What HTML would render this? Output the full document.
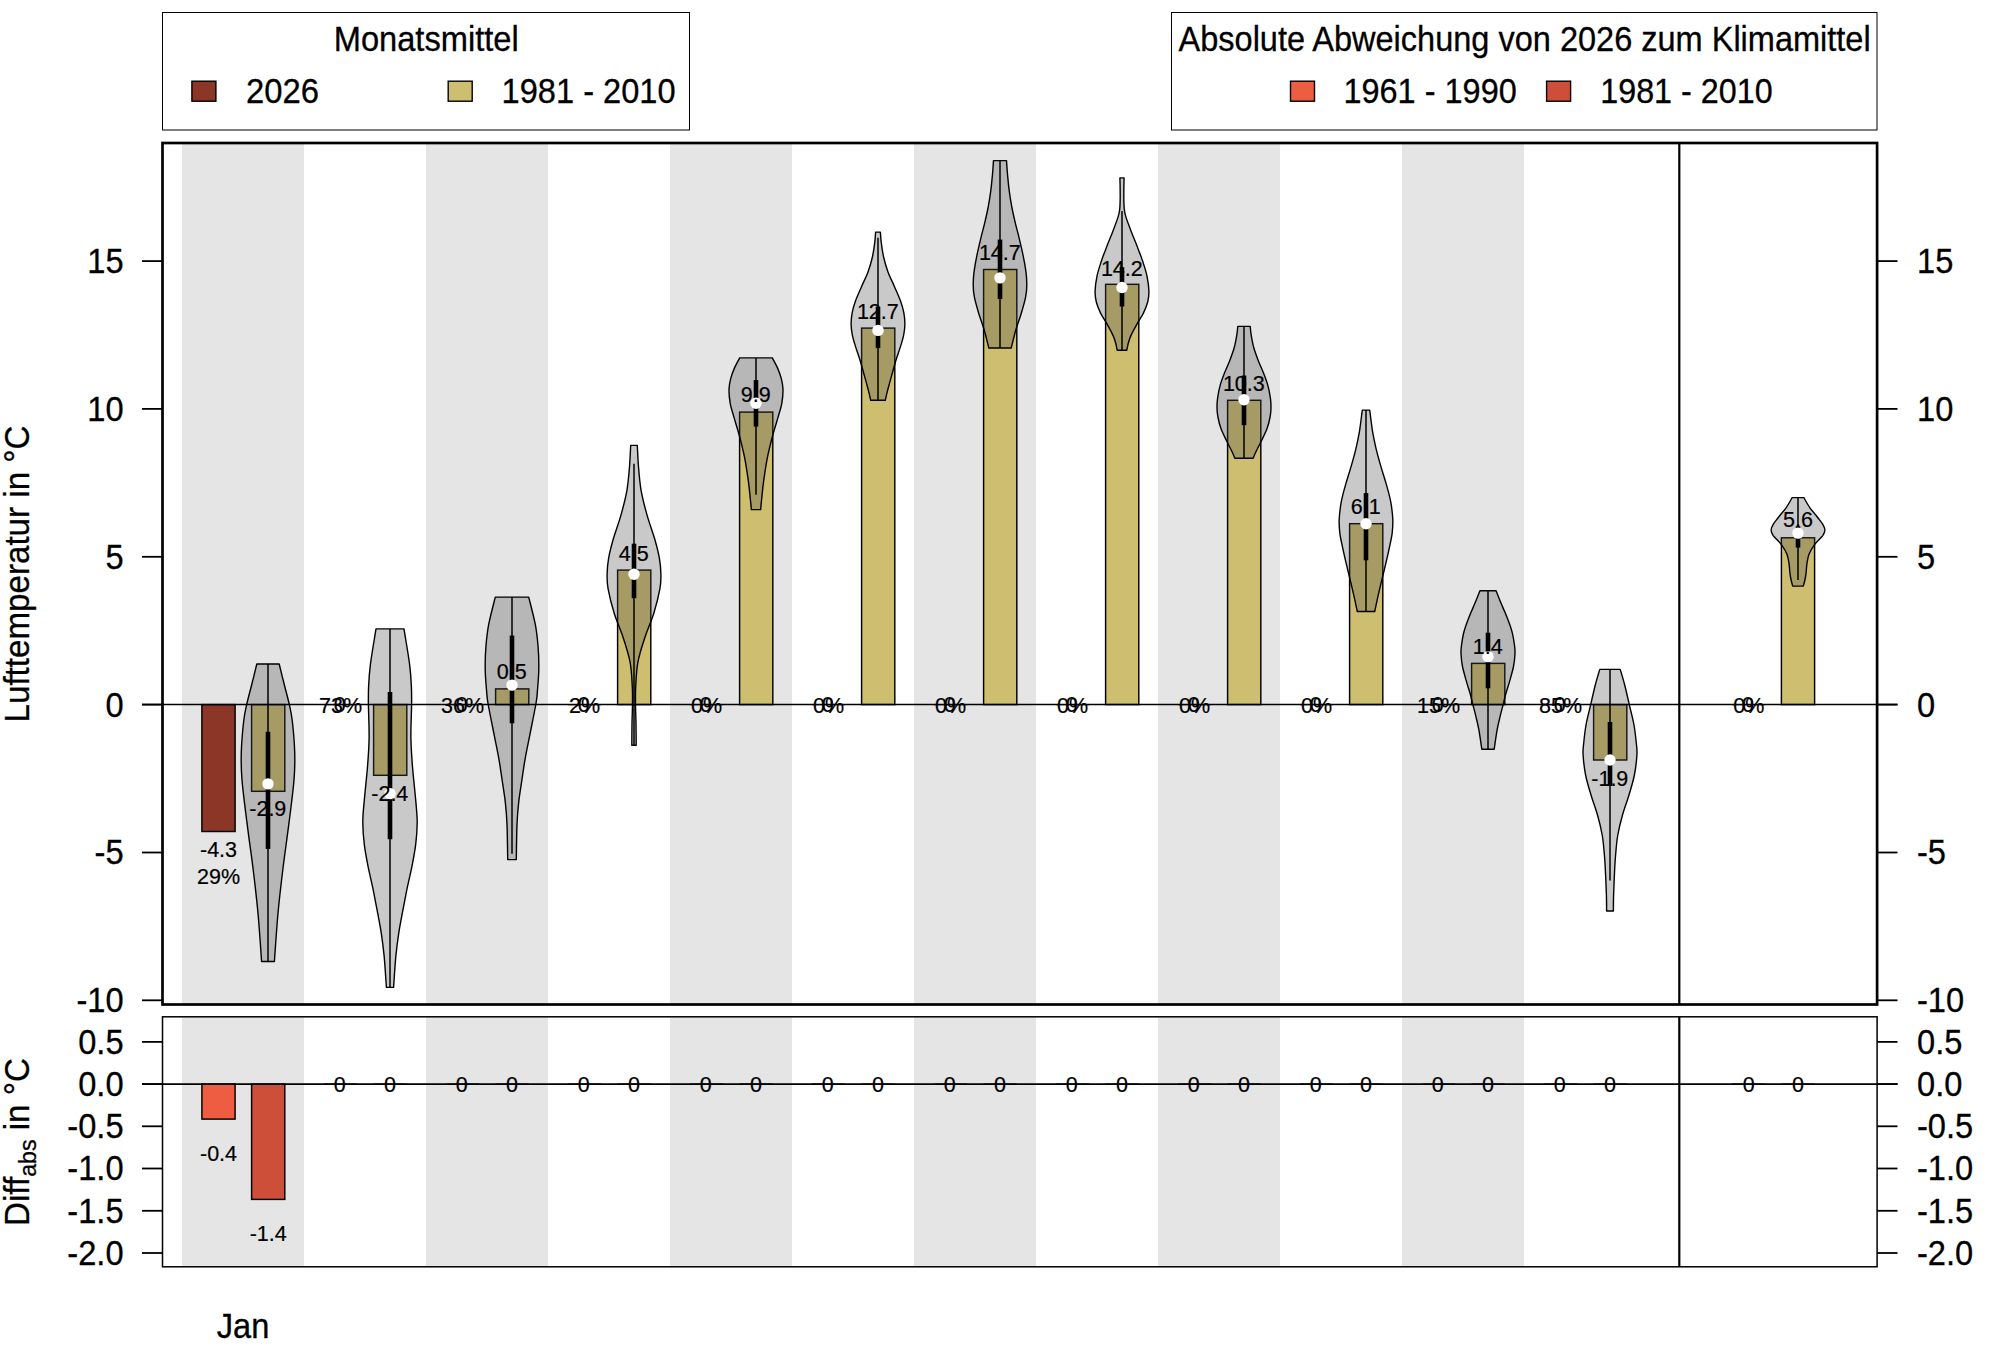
<!DOCTYPE html>
<html lang="de">
<head>
<meta charset="utf-8">
<title>Monatsmittel Lufttemperatur 2026</title>
<style>
html,body{margin:0;padding:0;background:#fff;}
body{width:2000px;height:1350px;overflow:hidden;}
svg{display:block;}
</style>
</head>
<body>
<svg width="2000" height="1350" viewBox="0 0 2000 1350" font-family='"Liberation Sans", sans-serif' fill="#000">
<rect width="2000" height="1350" fill="#fff"/>
<g fill="#e5e5e5">
<rect x="182.0" y="143.0" width="122" height="861.5"/>
<rect x="182.0" y="1016.8" width="122" height="250.0"/>
<rect x="426.0" y="143.0" width="122" height="861.5"/>
<rect x="426.0" y="1016.8" width="122" height="250.0"/>
<rect x="670.0" y="143.0" width="122" height="861.5"/>
<rect x="670.0" y="1016.8" width="122" height="250.0"/>
<rect x="914.0" y="143.0" width="122" height="861.5"/>
<rect x="914.0" y="1016.8" width="122" height="250.0"/>
<rect x="1158.0" y="143.0" width="122" height="861.5"/>
<rect x="1158.0" y="1016.8" width="122" height="250.0"/>
<rect x="1402.0" y="143.0" width="122" height="861.5"/>
<rect x="1402.0" y="1016.8" width="122" height="250.0"/>
</g>
<g stroke="#000" stroke-width="1.45">
<rect x="201.9" y="704.6" width="33.2" height="126.9" fill="#8b3626"/>
<rect x="251.6" y="704.6" width="33.2" height="86.7" fill="#cdbe70"/>
<rect x="373.6" y="704.6" width="33.2" height="70.7" fill="#cdbe70"/>
<rect x="495.6" y="688.9" width="33.2" height="15.7" fill="#cdbe70"/>
<rect x="617.6" y="570.1" width="33.2" height="134.5" fill="#cdbe70"/>
<rect x="739.6" y="412.1" width="33.2" height="292.5" fill="#cdbe70"/>
<rect x="861.6" y="328.1" width="33.2" height="376.5" fill="#cdbe70"/>
<rect x="983.6" y="269.5" width="33.2" height="435.1" fill="#cdbe70"/>
<rect x="1105.6" y="284.3" width="33.2" height="420.3" fill="#cdbe70"/>
<rect x="1227.6" y="400.3" width="33.2" height="304.3" fill="#cdbe70"/>
<rect x="1349.6" y="523.7" width="33.2" height="180.9" fill="#cdbe70"/>
<rect x="1471.6" y="663.4" width="33.2" height="41.2" fill="#cdbe70"/>
<rect x="1593.6" y="704.6" width="33.2" height="55.4" fill="#cdbe70"/>
<rect x="1781.4" y="537.8" width="33.2" height="166.8" fill="#cdbe70"/>
<rect x="201.9" y="1084.1" width="33.2" height="35.0" fill="#ee5c42"/>
<rect x="251.6" y="1084.1" width="33.2" height="115.3" fill="#cd4f39"/>
</g>
<g stroke="#000" stroke-width="1.3">
<path d="M323.9 704.6h33.2"/>
<path d="M323.9 1084.1h33.2"/>
<path d="M373.6 1084.1h33.2"/>
<path d="M445.9 704.6h33.2"/>
<path d="M445.9 1084.1h33.2"/>
<path d="M495.6 1084.1h33.2"/>
<path d="M567.9 704.6h33.2"/>
<path d="M567.9 1084.1h33.2"/>
<path d="M617.6 1084.1h33.2"/>
<path d="M689.9 704.6h33.2"/>
<path d="M689.9 1084.1h33.2"/>
<path d="M739.6 1084.1h33.2"/>
<path d="M811.9 704.6h33.2"/>
<path d="M811.9 1084.1h33.2"/>
<path d="M861.6 1084.1h33.2"/>
<path d="M933.9 704.6h33.2"/>
<path d="M933.9 1084.1h33.2"/>
<path d="M983.6 1084.1h33.2"/>
<path d="M1055.9 704.6h33.2"/>
<path d="M1055.9 1084.1h33.2"/>
<path d="M1105.6 1084.1h33.2"/>
<path d="M1177.9 704.6h33.2"/>
<path d="M1177.9 1084.1h33.2"/>
<path d="M1227.6 1084.1h33.2"/>
<path d="M1299.9 704.6h33.2"/>
<path d="M1299.9 1084.1h33.2"/>
<path d="M1349.6 1084.1h33.2"/>
<path d="M1421.9 704.6h33.2"/>
<path d="M1421.9 1084.1h33.2"/>
<path d="M1471.6 1084.1h33.2"/>
<path d="M1543.9 704.6h33.2"/>
<path d="M1543.9 1084.1h33.2"/>
<path d="M1593.6 1084.1h33.2"/>
<path d="M1732.1 704.6h33.2"/>
<path d="M1732.1 1084.1h33.2"/>
<path d="M1781.4 1084.1h33.2"/>
</g>
<path d="M279.2 664.0C280.1 667.6 282.8 678.8 284.5 685.5C286.2 692.2 287.9 698.1 289.2 704.0C290.5 709.9 291.4 713.0 292.3 721.0C293.2 729.0 294.4 742.2 294.7 752.0C295.0 761.8 295.0 767.9 294.0 780.0C293.0 792.1 290.7 809.6 288.8 824.4C286.9 839.2 284.7 854.2 282.9 869.0C281.1 883.8 279.4 897.9 278.0 913.3C276.6 928.7 275.0 953.5 274.4 961.5L261.6 961.5C261.0 953.5 259.4 928.7 258.0 913.3C256.6 897.9 254.9 883.8 253.1 869.0C251.3 854.2 249.0 839.2 247.2 824.4C245.3 809.6 243.0 792.1 242.0 780.0C241.0 767.9 241.0 761.8 241.3 752.0C241.6 742.2 242.8 729.0 243.7 721.0C244.6 713.0 245.5 709.9 246.8 704.0C248.1 698.1 249.8 692.2 251.5 685.5C253.2 678.8 255.9 667.6 256.8 664.0Z" fill="rgba(77,77,77,0.3)" stroke="#000" stroke-width="1.4" stroke-linejoin="round"/>
<path d="M268.0 664.0V961.5" stroke="#000" stroke-width="1.5"/>
<path d="M268.0 731.8V848.9" stroke="#000" stroke-width="4.6"/>
<circle cx="268.0" cy="783.9" r="5.7" fill="#fff"/>
<path d="M404.0 628.9C404.9 634.8 408.4 654.8 409.6 664.4C410.8 674.0 411.1 680.1 411.4 686.7C411.7 693.3 411.7 695.4 411.6 704.0C411.5 712.6 410.7 727.8 410.9 738.5C411.1 749.2 411.8 758.1 412.6 768.0C413.4 777.9 414.7 789.0 415.5 798.0C416.3 807.0 417.2 814.3 417.2 822.0C417.2 829.7 416.6 836.9 415.7 844.4C414.8 851.9 413.3 859.3 411.9 866.7C410.4 874.1 408.5 881.5 407.0 888.9C405.5 896.3 404.1 903.7 402.7 911.1C401.3 918.5 399.8 925.9 398.7 933.3C397.6 940.7 396.8 946.6 395.9 955.6C395.0 964.6 394.0 982.1 393.6 987.4L386.4 987.4C386.0 982.1 385.0 964.6 384.1 955.6C383.2 946.6 382.4 940.7 381.3 933.3C380.2 925.9 378.7 918.5 377.3 911.1C375.9 903.7 374.5 896.3 373.0 888.9C371.5 881.5 369.6 874.1 368.1 866.7C366.7 859.3 365.2 851.9 364.3 844.4C363.4 836.9 362.8 829.7 362.8 822.0C362.8 814.3 363.7 807.0 364.5 798.0C365.3 789.0 366.6 777.9 367.4 768.0C368.2 758.1 368.9 749.2 369.1 738.5C369.3 727.8 368.5 712.6 368.4 704.0C368.3 695.4 368.3 693.3 368.6 686.7C368.9 680.1 369.2 674.0 370.4 664.4C371.6 654.8 375.1 634.8 376.0 628.9Z" fill="rgba(77,77,77,0.3)" stroke="#000" stroke-width="1.4" stroke-linejoin="round"/>
<path d="M390.0 628.9V987.4" stroke="#000" stroke-width="1.5"/>
<path d="M390.0 692.1V839.3" stroke="#000" stroke-width="4.6"/>
<circle cx="390.0" cy="793.6" r="5.7" fill="#fff"/>
<path d="M528.7 597.1C529.8 601.6 533.7 616.1 535.3 624.4C536.9 632.7 537.5 639.3 538.1 646.7C538.7 654.1 538.9 661.5 538.8 668.9C538.7 676.3 537.9 685.2 537.4 691.1C536.9 697.0 537.2 696.6 535.9 704.0C534.6 711.4 531.5 726.6 529.7 735.6C527.9 744.6 526.6 750.4 525.3 757.8C524.0 765.2 523.0 772.6 521.9 780.0C520.8 787.4 519.5 794.8 518.7 802.2C517.9 809.6 517.4 814.8 517.0 824.4C516.6 834.0 516.4 853.7 516.3 859.6L507.7 859.6C507.6 853.7 507.4 834.0 507.0 824.4C506.6 814.8 506.1 809.6 505.3 802.2C504.5 794.8 503.2 787.4 502.1 780.0C501.0 772.6 500.0 765.2 498.7 757.8C497.4 750.4 496.1 744.6 494.3 735.6C492.5 726.6 489.4 711.4 488.1 704.0C486.8 696.6 487.1 697.0 486.6 691.1C486.1 685.2 485.3 676.3 485.2 668.9C485.1 661.5 485.3 654.1 485.9 646.7C486.5 639.3 487.1 632.7 488.7 624.4C490.3 616.1 494.2 601.6 495.3 597.1Z" fill="rgba(77,77,77,0.3)" stroke="#000" stroke-width="1.4" stroke-linejoin="round"/>
<path d="M512.0 597.1V853.8" stroke="#000" stroke-width="1.5"/>
<path d="M512.0 635.6V723.3" stroke="#000" stroke-width="4.6"/>
<circle cx="512.0" cy="685.1" r="5.7" fill="#fff"/>
<path d="M637.3 445.4C637.5 448.9 637.9 459.1 638.5 466.7C639.1 474.3 639.8 483.0 641.2 491.1C642.7 499.2 644.9 507.5 647.2 515.6C649.5 523.8 653.0 532.9 655.0 540.0C657.0 547.1 658.4 552.6 659.4 558.3C660.4 564.0 660.8 569.1 660.9 574.2C661.0 579.3 661.1 582.4 659.9 588.9C658.7 595.4 656.3 605.1 653.8 613.3C651.3 621.4 647.4 629.6 644.8 637.8C642.1 645.9 639.4 654.1 637.9 662.2C636.4 670.4 636.1 679.7 635.7 686.7C635.3 693.7 635.5 697.9 635.5 704.0C635.5 710.1 635.9 716.4 636.0 723.3C636.1 730.2 636.2 741.6 636.2 745.3L631.8 745.3C631.8 741.6 631.9 730.2 632.0 723.3C632.1 716.4 632.5 710.1 632.5 704.0C632.5 697.9 632.7 693.7 632.3 686.7C631.9 679.7 631.6 670.4 630.1 662.2C628.6 654.1 625.9 645.9 623.2 637.8C620.6 629.6 616.7 621.4 614.2 613.3C611.7 605.1 609.3 595.4 608.1 588.9C606.9 582.4 607.0 579.3 607.1 574.2C607.2 569.1 607.6 564.0 608.6 558.3C609.6 552.6 611.0 547.1 613.0 540.0C615.0 532.9 618.5 523.8 620.8 515.6C623.1 507.5 625.3 499.2 626.8 491.1C628.2 483.0 628.9 474.3 629.5 466.7C630.1 459.1 630.5 448.9 630.7 445.4Z" fill="rgba(77,77,77,0.3)" stroke="#000" stroke-width="1.4" stroke-linejoin="round"/>
<path d="M634.0 463.7V745.3" stroke="#000" stroke-width="1.5"/>
<path d="M634.0 543.7V598.2" stroke="#000" stroke-width="4.6"/>
<circle cx="634.0" cy="574.2" r="5.7" fill="#fff"/>
<path d="M772.3 357.9C773.2 359.6 776.1 364.6 777.6 368.1C779.1 371.6 780.4 375.2 781.3 378.7C782.2 382.2 782.9 385.2 783.0 389.3C783.1 393.4 782.6 398.6 781.8 403.3C781.0 408.0 779.3 412.7 778.0 417.4C776.7 422.1 775.1 426.8 773.8 431.5C772.5 436.2 771.2 440.9 770.1 445.6C769.0 450.3 767.9 454.9 767.0 459.6C766.1 464.3 765.4 469.0 764.7 473.7C764.0 478.4 763.5 481.8 762.8 487.8C762.1 493.8 761.0 506.0 760.6 509.6L751.4 509.6C751.0 506.0 749.9 493.8 749.2 487.8C748.5 481.8 748.0 478.4 747.3 473.7C746.6 469.0 745.9 464.3 745.0 459.6C744.1 454.9 743.0 450.3 741.9 445.6C740.8 440.9 739.5 436.2 738.2 431.5C736.9 426.8 735.3 422.1 734.0 417.4C732.7 412.7 731.0 408.0 730.2 403.3C729.4 398.6 728.9 393.4 729.0 389.3C729.1 385.2 729.8 382.2 730.7 378.7C731.6 375.2 732.9 371.6 734.4 368.1C735.9 364.6 738.8 359.6 739.7 357.9Z" fill="rgba(77,77,77,0.3)" stroke="#000" stroke-width="1.4" stroke-linejoin="round"/>
<path d="M756.0 357.9V494.8" stroke="#000" stroke-width="1.5"/>
<path d="M756.0 380.1V426.6" stroke="#000" stroke-width="4.6"/>
<circle cx="756.0" cy="403.3" r="5.7" fill="#fff"/>
<path d="M880.4 232.1C880.5 233.8 880.7 238.0 881.2 242.2C881.7 246.3 882.5 252.1 883.6 257.0C884.7 261.9 886.2 266.9 888.0 271.9C889.8 276.8 892.4 281.8 894.5 286.7C896.6 291.6 899.2 297.2 900.7 301.5C902.2 305.8 903.1 308.9 903.8 312.6C904.5 316.3 904.9 320.0 904.9 323.7C904.9 327.4 904.4 331.1 903.7 334.8C903.0 338.5 902.0 341.6 900.7 345.9C899.4 350.2 897.3 355.8 895.8 360.7C894.3 365.6 893.0 370.7 891.6 375.6C890.2 380.6 888.7 386.3 887.6 390.4C886.5 394.5 885.7 398.6 885.3 400.3L870.7 400.3C870.3 398.6 869.5 394.5 868.4 390.4C867.3 386.3 865.8 380.6 864.4 375.6C863.0 370.7 861.7 365.6 860.2 360.7C858.7 355.8 856.6 350.2 855.3 345.9C854.0 341.6 853.0 338.5 852.3 334.8C851.6 331.1 851.1 327.4 851.1 323.7C851.1 320.0 851.5 316.3 852.2 312.6C852.9 308.9 853.8 305.8 855.3 301.5C856.8 297.2 859.4 291.6 861.5 286.7C863.6 281.8 866.2 276.8 868.0 271.9C869.8 266.9 871.3 261.9 872.4 257.0C873.5 252.1 874.3 246.3 874.8 242.2C875.3 238.0 875.5 233.8 875.6 232.1Z" fill="rgba(77,77,77,0.3)" stroke="#000" stroke-width="1.4" stroke-linejoin="round"/>
<path d="M878.0 237.8V400.3" stroke="#000" stroke-width="1.5"/>
<path d="M878.0 306.7V348.1" stroke="#000" stroke-width="4.6"/>
<circle cx="878.0" cy="330.4" r="5.7" fill="#fff"/>
<path d="M1006.5 160.6C1006.7 162.9 1007.0 169.4 1007.5 174.4C1008.0 179.4 1008.5 185.3 1009.2 190.7C1009.9 196.1 1010.8 201.6 1011.8 207.0C1012.8 212.4 1014.1 217.9 1015.4 223.3C1016.7 228.7 1018.2 234.2 1019.5 239.6C1020.8 245.0 1022.1 250.5 1023.2 255.9C1024.3 261.3 1025.4 267.4 1026.0 272.2C1026.6 277.0 1026.8 280.4 1026.8 284.5C1026.8 288.6 1026.6 291.9 1025.7 296.7C1024.8 301.4 1023.0 307.6 1021.4 313.0C1019.8 318.4 1017.7 323.5 1016.0 329.3C1014.3 335.1 1012.0 344.9 1011.2 348.0L988.8 348.0C988.0 344.9 985.7 335.1 984.0 329.3C982.3 323.5 980.2 318.4 978.6 313.0C977.0 307.6 975.2 301.4 974.3 296.7C973.4 291.9 973.2 288.6 973.2 284.5C973.2 280.4 973.4 277.0 974.0 272.2C974.6 267.4 975.7 261.3 976.8 255.9C977.9 250.5 979.2 245.0 980.5 239.6C981.8 234.2 983.3 228.7 984.6 223.3C985.9 217.9 987.2 212.4 988.2 207.0C989.2 201.6 990.1 196.1 990.8 190.7C991.5 185.3 992.0 179.4 992.5 174.4C993.0 169.4 993.3 162.9 993.5 160.6Z" fill="rgba(77,77,77,0.3)" stroke="#000" stroke-width="1.4" stroke-linejoin="round"/>
<path d="M1000.0 160.6V348.0" stroke="#000" stroke-width="1.5"/>
<path d="M1000.0 239.6V299.1" stroke="#000" stroke-width="4.6"/>
<circle cx="1000.0" cy="277.9" r="5.7" fill="#fff"/>
<path d="M1124.1 177.9C1124.0 180.7 1123.8 189.3 1123.8 194.6C1123.8 199.8 1123.9 205.7 1124.3 209.4C1124.7 213.1 1124.7 213.2 1125.9 216.9C1127.1 220.6 1129.4 226.8 1131.3 231.7C1133.2 236.6 1135.3 241.6 1137.2 246.5C1139.1 251.4 1141.1 256.4 1142.7 261.3C1144.3 266.2 1146.0 271.2 1147.0 276.1C1148.0 281.0 1148.8 286.6 1148.9 290.9C1149.0 295.2 1148.6 298.3 1147.7 302.0C1146.8 305.7 1145.2 309.4 1143.4 313.1C1141.6 316.8 1138.9 320.6 1136.8 324.3C1134.7 328.0 1132.4 332.3 1131.0 335.4C1129.6 338.5 1129.1 340.3 1128.4 342.8C1127.7 345.3 1127.1 349.0 1126.8 350.2L1117.2 350.2C1116.9 349.0 1116.3 345.3 1115.6 342.8C1114.9 340.3 1114.4 338.5 1113.0 335.4C1111.6 332.3 1109.3 328.0 1107.2 324.3C1105.1 320.6 1102.4 316.8 1100.6 313.1C1098.8 309.4 1097.2 305.7 1096.3 302.0C1095.4 298.3 1095.0 295.2 1095.1 290.9C1095.2 286.6 1096.0 281.0 1097.0 276.1C1098.0 271.2 1099.7 266.2 1101.3 261.3C1102.9 256.4 1104.9 251.4 1106.8 246.5C1108.7 241.6 1110.8 236.6 1112.7 231.7C1114.6 226.8 1116.9 220.6 1118.1 216.9C1119.3 213.2 1119.3 213.1 1119.7 209.4C1120.1 205.7 1120.2 199.8 1120.2 194.6C1120.2 189.3 1120.0 180.7 1119.9 177.9Z" fill="rgba(77,77,77,0.3)" stroke="#000" stroke-width="1.4" stroke-linejoin="round"/>
<path d="M1122.0 210.9V350.2" stroke="#000" stroke-width="1.5"/>
<path d="M1122.0 267.2V306.5" stroke="#000" stroke-width="4.6"/>
<circle cx="1122.0" cy="287.5" r="5.7" fill="#fff"/>
<path d="M1250.2 326.4C1250.4 327.9 1250.6 331.6 1251.2 335.2C1251.8 338.8 1252.6 343.6 1253.8 347.8C1255.0 352.0 1256.6 356.2 1258.2 360.4C1259.8 364.6 1261.9 368.8 1263.5 373.0C1265.1 377.2 1266.8 381.4 1267.9 385.6C1269.1 389.8 1269.9 394.5 1270.4 398.2C1270.9 401.9 1271.0 404.5 1271.0 407.6C1271.0 410.7 1270.8 413.3 1270.1 417.0C1269.4 420.7 1268.3 425.4 1266.7 429.6C1265.1 433.8 1262.4 438.6 1260.7 442.2C1259.0 445.8 1257.6 448.3 1256.3 451.0C1255.0 453.7 1253.6 457.1 1253.1 458.3L1234.9 458.3C1234.4 457.1 1233.0 453.7 1231.7 451.0C1230.4 448.3 1229.0 445.8 1227.3 442.2C1225.6 438.6 1222.9 433.8 1221.3 429.6C1219.7 425.4 1218.6 420.7 1217.9 417.0C1217.2 413.3 1217.0 410.7 1217.0 407.6C1217.0 404.5 1217.1 401.9 1217.6 398.2C1218.1 394.5 1218.9 389.8 1220.1 385.6C1221.2 381.4 1222.9 377.2 1224.5 373.0C1226.1 368.8 1228.2 364.6 1229.8 360.4C1231.4 356.2 1233.0 352.0 1234.2 347.8C1235.4 343.6 1236.2 338.8 1236.8 335.2C1237.4 331.6 1237.6 327.9 1237.8 326.4Z" fill="rgba(77,77,77,0.3)" stroke="#000" stroke-width="1.4" stroke-linejoin="round"/>
<path d="M1244.0 326.4V458.3" stroke="#000" stroke-width="1.5"/>
<path d="M1244.0 375.5V425.2" stroke="#000" stroke-width="4.6"/>
<circle cx="1244.0" cy="399.7" r="5.7" fill="#fff"/>
<path d="M1369.7 410.1C1370.2 413.5 1371.4 424.2 1372.4 430.6C1373.5 437.0 1374.6 442.4 1376.0 448.3C1377.4 454.2 1379.1 460.2 1380.8 466.1C1382.5 472.0 1384.5 478.0 1386.2 483.9C1387.9 489.8 1389.6 495.8 1390.7 501.7C1391.8 507.6 1392.5 514.2 1392.8 519.4C1393.0 524.6 1392.7 528.3 1392.2 532.8C1391.7 537.2 1390.8 540.9 1389.7 546.1C1388.6 551.3 1387.1 558.0 1385.7 563.9C1384.3 569.8 1382.8 575.8 1381.4 581.7C1380.0 587.6 1378.4 594.4 1377.3 599.4C1376.2 604.4 1375.1 609.5 1374.7 611.5L1357.3 611.5C1356.9 609.5 1355.8 604.4 1354.7 599.4C1353.6 594.4 1352.0 587.6 1350.6 581.7C1349.2 575.8 1347.7 569.8 1346.3 563.9C1344.9 558.0 1343.4 551.3 1342.3 546.1C1341.2 540.9 1340.3 537.2 1339.8 532.8C1339.3 528.3 1339.0 524.6 1339.2 519.4C1339.5 514.2 1340.2 507.6 1341.3 501.7C1342.4 495.8 1344.1 489.8 1345.8 483.9C1347.5 478.0 1349.5 472.0 1351.2 466.1C1352.9 460.2 1354.6 454.2 1356.0 448.3C1357.4 442.4 1358.5 437.0 1359.6 430.6C1360.6 424.2 1361.8 413.5 1362.3 410.1Z" fill="rgba(77,77,77,0.3)" stroke="#000" stroke-width="1.4" stroke-linejoin="round"/>
<path d="M1366.0 410.1V611.5" stroke="#000" stroke-width="1.5"/>
<path d="M1366.0 493.1V560.3" stroke="#000" stroke-width="4.6"/>
<circle cx="1366.0" cy="523.7" r="5.7" fill="#fff"/>
<path d="M1496.1 590.8C1496.9 592.8 1499.2 598.7 1501.0 603.1C1502.8 607.5 1505.2 612.5 1507.0 617.2C1508.8 621.9 1510.7 626.6 1511.9 631.3C1513.2 636.0 1514.0 641.6 1514.5 645.4C1515.0 649.1 1515.2 650.3 1515.0 653.8C1514.8 657.3 1514.4 662.0 1513.5 666.5C1512.6 671.0 1511.1 675.9 1509.8 680.6C1508.5 685.3 1506.7 690.7 1505.6 694.6C1504.5 698.5 1504.1 700.8 1503.2 704.3C1502.3 707.8 1501.3 711.5 1500.3 715.7C1499.3 720.0 1498.1 724.2 1497.1 729.8C1496.1 735.4 1494.7 746.0 1494.2 749.2L1481.8 749.2C1481.3 746.0 1479.9 735.4 1478.9 729.8C1477.9 724.2 1476.7 720.0 1475.7 715.7C1474.7 711.5 1473.7 707.8 1472.8 704.3C1471.9 700.8 1471.5 698.5 1470.4 694.6C1469.3 690.7 1467.5 685.3 1466.2 680.6C1464.9 675.9 1463.4 671.0 1462.5 666.5C1461.6 662.0 1461.2 657.3 1461.0 653.8C1460.8 650.3 1461.0 649.1 1461.5 645.4C1462.0 641.6 1462.8 636.0 1464.1 631.3C1465.3 626.6 1467.2 621.9 1469.0 617.2C1470.8 612.5 1473.2 607.5 1475.0 603.1C1476.8 598.7 1479.1 592.8 1479.9 590.8Z" fill="rgba(77,77,77,0.3)" stroke="#000" stroke-width="1.4" stroke-linejoin="round"/>
<path d="M1488.0 590.8V749.2" stroke="#000" stroke-width="1.5"/>
<path d="M1488.0 632.7V688.3" stroke="#000" stroke-width="4.6"/>
<circle cx="1488.0" cy="656.6" r="5.7" fill="#fff"/>
<path d="M1620.2 669.4C1621.0 672.0 1623.2 679.2 1624.7 685.0C1626.2 690.8 1627.7 697.6 1629.2 704.3C1630.8 711.0 1632.8 718.2 1634.0 725.0C1635.2 731.8 1636.0 740.0 1636.5 745.0C1637.0 750.0 1637.2 750.0 1636.9 755.0C1636.6 760.0 1635.7 768.3 1634.4 775.0C1633.1 781.7 1631.0 788.3 1629.0 795.0C1627.0 801.7 1624.4 808.3 1622.5 815.0C1620.6 821.7 1619.0 828.3 1617.8 835.0C1616.6 841.7 1616.2 848.3 1615.6 855.0C1615.0 861.7 1614.7 868.3 1614.4 875.0C1614.1 881.7 1613.8 889.0 1613.6 895.0C1613.4 901.0 1613.4 908.3 1613.4 911.0L1606.6 911.0C1606.6 908.3 1606.6 901.0 1606.4 895.0C1606.2 889.0 1605.9 881.7 1605.6 875.0C1605.3 868.3 1605.0 861.7 1604.4 855.0C1603.8 848.3 1603.4 841.7 1602.2 835.0C1601.0 828.3 1599.4 821.7 1597.5 815.0C1595.6 808.3 1593.0 801.7 1591.0 795.0C1589.0 788.3 1586.9 781.7 1585.6 775.0C1584.3 768.3 1583.4 760.0 1583.1 755.0C1582.8 750.0 1583.0 750.0 1583.5 745.0C1584.0 740.0 1584.8 731.8 1586.0 725.0C1587.2 718.2 1589.2 711.0 1590.8 704.3C1592.3 697.6 1593.8 690.8 1595.3 685.0C1596.8 679.2 1599.0 672.0 1599.8 669.4Z" fill="rgba(77,77,77,0.3)" stroke="#000" stroke-width="1.4" stroke-linejoin="round"/>
<path d="M1610.0 669.4V880.6" stroke="#000" stroke-width="1.5"/>
<path d="M1610.0 722.0V786.0" stroke="#000" stroke-width="4.6"/>
<circle cx="1610.0" cy="760.0" r="5.7" fill="#fff"/>
<path d="M1803.8 497.6C1804.8 499.3 1807.7 504.6 1809.9 507.8C1812.2 511.0 1815.2 514.2 1817.3 517.0C1819.4 519.8 1821.5 522.2 1822.8 524.4C1824.1 526.6 1824.9 528.1 1824.9 530.0C1824.9 531.9 1824.5 533.1 1822.8 535.6C1821.0 538.1 1816.7 541.7 1814.4 544.8C1812.1 547.9 1810.3 551.0 1809.1 554.1C1807.9 557.2 1807.5 560.2 1807.0 563.3C1806.5 566.4 1806.4 569.8 1806.1 572.6C1805.8 575.4 1805.4 577.8 1804.9 580.0C1804.4 582.2 1803.6 585.1 1803.3 586.1L1792.7 586.1C1792.4 585.1 1791.6 582.2 1791.1 580.0C1790.6 577.8 1790.2 575.4 1789.9 572.6C1789.6 569.8 1789.5 566.4 1789.0 563.3C1788.5 560.2 1788.1 557.2 1786.9 554.1C1785.7 551.0 1783.9 547.9 1781.6 544.8C1779.3 541.7 1775.0 538.1 1773.2 535.6C1771.5 533.1 1771.1 531.9 1771.1 530.0C1771.1 528.1 1771.9 526.6 1773.2 524.4C1774.5 522.2 1776.6 519.8 1778.7 517.0C1780.8 514.2 1783.8 511.0 1786.1 507.8C1788.3 504.6 1791.2 499.3 1792.2 497.6Z" fill="rgba(77,77,77,0.3)" stroke="#000" stroke-width="1.4" stroke-linejoin="round"/>
<path d="M1798.0 497.6V580.0" stroke="#000" stroke-width="1.5"/>
<path d="M1798.0 526.3V547.6" stroke="#000" stroke-width="4.6"/>
<circle cx="1798.0" cy="533.1" r="5.7" fill="#fff"/>
<g stroke="#000">
<path d="M142 704.5H1897.5" stroke-width="1.35"/>
<path d="M142 1084.1H1897.5" stroke-width="1.55"/>
</g>
<g fill="none" stroke="#000">
<rect x="162.5" y="143.0" width="1714.6" height="861.5" stroke-width="2.7"/>
<rect x="162.5" y="1016.8" width="1714.6" height="250.0" stroke-width="1.5"/>
<path d="M1679.3 143.0V1004.5" stroke-width="2.2"/>
<path d="M1679.3 1016.8V1266.7" stroke-width="2.2"/>
</g>
<g stroke="#000" stroke-width="1.8">
<path d="M142 261.1H162.5"/>
<path d="M1877.1 261.1H1897.5"/>
<path d="M142 408.9H162.5"/>
<path d="M1877.1 408.9H1897.5"/>
<path d="M142 556.8H162.5"/>
<path d="M1877.1 556.8H1897.5"/>
<path d="M142 704.6H162.5"/>
<path d="M1877.1 704.6H1897.5"/>
<path d="M142 852.5H162.5"/>
<path d="M1877.1 852.5H1897.5"/>
<path d="M142 1000.3H162.5"/>
<path d="M1877.1 1000.3H1897.5"/>
<path d="M142 1041.9H162.5"/>
<path d="M1877.1 1041.9H1897.5"/>
<path d="M142 1084.1H162.5"/>
<path d="M1877.1 1084.1H1897.5"/>
<path d="M142 1126.3H162.5"/>
<path d="M1877.1 1126.3H1897.5"/>
<path d="M142 1168.5H162.5"/>
<path d="M1877.1 1168.5H1897.5"/>
<path d="M142 1210.8H162.5"/>
<path d="M1877.1 1210.8H1897.5"/>
<path d="M142 1253.0H162.5"/>
<path d="M1877.1 1253.0H1897.5"/>
</g>
<g font-size="34.60" stroke="#000" stroke-width="0.3">
<text transform="translate(123.6 272.9) scale(0.944 1)" text-anchor="end">15</text>
<text transform="translate(1917.0 272.9) scale(0.944 1)">15</text>
<text transform="translate(123.6 420.8) scale(0.944 1)" text-anchor="end">10</text>
<text transform="translate(1917.0 420.8) scale(0.944 1)">10</text>
<text transform="translate(123.6 568.6) scale(0.944 1)" text-anchor="end">5</text>
<text transform="translate(1917.0 568.6) scale(0.944 1)">5</text>
<text transform="translate(123.6 716.5) scale(0.944 1)" text-anchor="end">0</text>
<text transform="translate(1917.0 716.5) scale(0.944 1)">0</text>
<text transform="translate(123.6 864.4) scale(0.944 1)" text-anchor="end">-5</text>
<text transform="translate(1917.0 864.4) scale(0.944 1)">-5</text>
<text transform="translate(123.6 1012.2) scale(0.944 1)" text-anchor="end">-10</text>
<text transform="translate(1917.0 1012.2) scale(0.944 1)">-10</text>
<text transform="translate(123.6 1053.8) scale(0.944 1)" text-anchor="end">0.5</text>
<text transform="translate(1917.0 1053.8) scale(0.944 1)">0.5</text>
<text transform="translate(123.6 1096.0) scale(0.944 1)" text-anchor="end">0.0</text>
<text transform="translate(1917.0 1096.0) scale(0.944 1)">0.0</text>
<text transform="translate(123.6 1138.2) scale(0.944 1)" text-anchor="end">-0.5</text>
<text transform="translate(1917.0 1138.2) scale(0.944 1)">-0.5</text>
<text transform="translate(123.6 1180.4) scale(0.944 1)" text-anchor="end">-1.0</text>
<text transform="translate(1917.0 1180.4) scale(0.944 1)">-1.0</text>
<text transform="translate(123.6 1222.7) scale(0.944 1)" text-anchor="end">-1.5</text>
<text transform="translate(1917.0 1222.7) scale(0.944 1)">-1.5</text>
<text transform="translate(123.6 1264.9) scale(0.944 1)" text-anchor="end">-2.0</text>
<text transform="translate(1917.0 1264.9) scale(0.944 1)">-2.0</text>
<text transform="translate(29.0 574) rotate(-90) scale(0.958 1)" text-anchor="middle">Lufttemperatur in °C</text>
<text transform="translate(29.0 1142) rotate(-90) scale(0.958 1)" text-anchor="middle">Diff<tspan font-size="24.22" dy="7">abs</tspan><tspan dy="-7"> in °C</tspan></text>
<text transform="translate(243.0 1337.6) scale(0.944 1)" text-anchor="middle">Jan</text>
</g>
<g font-size="21.50" stroke="#000" stroke-width="0.2">
<text transform="translate(218.5 856.6) scale(1.000 1)" text-anchor="middle">-4.3</text>
<text transform="translate(218.5 883.6) scale(1.000 1)" text-anchor="middle">29%</text>
<text transform="translate(267.8 815.6) scale(1.000 1)" text-anchor="middle">-2.9</text>
<text transform="translate(389.8 800.6) scale(1.000 1)" text-anchor="middle">-2.4</text>
<text transform="translate(511.8 678.6) scale(1.000 1)" text-anchor="middle">0.5</text>
<text transform="translate(633.8 560.6) scale(1.000 1)" text-anchor="middle">4.5</text>
<text transform="translate(755.8 401.6) scale(1.000 1)" text-anchor="middle">9.9</text>
<text transform="translate(877.8 318.6) scale(1.000 1)" text-anchor="middle">12.7</text>
<text transform="translate(999.8 260.1) scale(1.000 1)" text-anchor="middle">14.7</text>
<text transform="translate(1121.8 275.6) scale(1.000 1)" text-anchor="middle">14.2</text>
<text transform="translate(1243.8 390.6) scale(1.000 1)" text-anchor="middle">10.3</text>
<text transform="translate(1365.8 513.6) scale(1.000 1)" text-anchor="middle">6.1</text>
<text transform="translate(1487.8 653.6) scale(1.000 1)" text-anchor="middle">1.4</text>
<text transform="translate(1609.8 785.6) scale(1.000 1)" text-anchor="middle">-1.9</text>
<text transform="translate(1798.0 526.6) scale(1.000 1)" text-anchor="middle">5.6</text>
<text transform="translate(339.8 711.7) scale(1.000 1)" text-anchor="middle">0</text>
<text transform="translate(340.6 712.7) scale(1.000 1)" text-anchor="middle">73%</text>
<text transform="translate(461.8 711.7) scale(1.000 1)" text-anchor="middle">0</text>
<text transform="translate(462.6 712.7) scale(1.000 1)" text-anchor="middle">36%</text>
<text transform="translate(583.8 711.7) scale(1.000 1)" text-anchor="middle">0</text>
<text transform="translate(584.6 712.7) scale(1.000 1)" text-anchor="middle">2%</text>
<text transform="translate(705.8 711.7) scale(1.000 1)" text-anchor="middle">0</text>
<text transform="translate(706.6 712.7) scale(1.000 1)" text-anchor="middle">0%</text>
<text transform="translate(827.8 711.7) scale(1.000 1)" text-anchor="middle">0</text>
<text transform="translate(828.6 712.7) scale(1.000 1)" text-anchor="middle">0%</text>
<text transform="translate(949.8 711.7) scale(1.000 1)" text-anchor="middle">0</text>
<text transform="translate(950.6 712.7) scale(1.000 1)" text-anchor="middle">0%</text>
<text transform="translate(1071.8 711.7) scale(1.000 1)" text-anchor="middle">0</text>
<text transform="translate(1072.6 712.7) scale(1.000 1)" text-anchor="middle">0%</text>
<text transform="translate(1193.8 711.7) scale(1.000 1)" text-anchor="middle">0</text>
<text transform="translate(1194.6 712.7) scale(1.000 1)" text-anchor="middle">0%</text>
<text transform="translate(1315.8 711.7) scale(1.000 1)" text-anchor="middle">0</text>
<text transform="translate(1316.6 712.7) scale(1.000 1)" text-anchor="middle">0%</text>
<text transform="translate(1437.8 711.7) scale(1.000 1)" text-anchor="middle">0</text>
<text transform="translate(1438.6 712.7) scale(1.000 1)" text-anchor="middle">15%</text>
<text transform="translate(1559.8 711.7) scale(1.000 1)" text-anchor="middle">0</text>
<text transform="translate(1560.6 712.7) scale(1.000 1)" text-anchor="middle">85%</text>
<text transform="translate(1748.0 711.7) scale(1.000 1)" text-anchor="middle">0</text>
<text transform="translate(1748.8 712.7) scale(1.000 1)" text-anchor="middle">0%</text>
<text transform="translate(218.5 1161.0) scale(1.000 1)" text-anchor="middle">-0.4</text>
<text transform="translate(268.2 1241.2) scale(1.000 1)" text-anchor="middle">-1.4</text>
<text transform="translate(339.7 1092.4) scale(1.000 1)" text-anchor="middle">0</text>
<text transform="translate(390.0 1092.4) scale(1.000 1)" text-anchor="middle">0</text>
<text transform="translate(461.7 1092.4) scale(1.000 1)" text-anchor="middle">0</text>
<text transform="translate(512.0 1092.4) scale(1.000 1)" text-anchor="middle">0</text>
<text transform="translate(583.7 1092.4) scale(1.000 1)" text-anchor="middle">0</text>
<text transform="translate(634.0 1092.4) scale(1.000 1)" text-anchor="middle">0</text>
<text transform="translate(705.7 1092.4) scale(1.000 1)" text-anchor="middle">0</text>
<text transform="translate(756.0 1092.4) scale(1.000 1)" text-anchor="middle">0</text>
<text transform="translate(827.7 1092.4) scale(1.000 1)" text-anchor="middle">0</text>
<text transform="translate(878.0 1092.4) scale(1.000 1)" text-anchor="middle">0</text>
<text transform="translate(949.7 1092.4) scale(1.000 1)" text-anchor="middle">0</text>
<text transform="translate(1000.0 1092.4) scale(1.000 1)" text-anchor="middle">0</text>
<text transform="translate(1071.7 1092.4) scale(1.000 1)" text-anchor="middle">0</text>
<text transform="translate(1122.0 1092.4) scale(1.000 1)" text-anchor="middle">0</text>
<text transform="translate(1193.7 1092.4) scale(1.000 1)" text-anchor="middle">0</text>
<text transform="translate(1244.0 1092.4) scale(1.000 1)" text-anchor="middle">0</text>
<text transform="translate(1315.7 1092.4) scale(1.000 1)" text-anchor="middle">0</text>
<text transform="translate(1366.0 1092.4) scale(1.000 1)" text-anchor="middle">0</text>
<text transform="translate(1437.7 1092.4) scale(1.000 1)" text-anchor="middle">0</text>
<text transform="translate(1488.0 1092.4) scale(1.000 1)" text-anchor="middle">0</text>
<text transform="translate(1559.7 1092.4) scale(1.000 1)" text-anchor="middle">0</text>
<text transform="translate(1610.0 1092.4) scale(1.000 1)" text-anchor="middle">0</text>
<text transform="translate(1748.7 1092.4) scale(1.000 1)" text-anchor="middle">0</text>
<text transform="translate(1798.0 1092.4) scale(1.000 1)" text-anchor="middle">0</text>
</g>
<g font-size="34.60" stroke="#000" stroke-width="0.3">
<rect x="162.5" y="12.5" width="527" height="117.5" fill="#fff" stroke="#000" stroke-width="1"/>
<text transform="translate(426.2 50.7) scale(0.944 1)" text-anchor="middle">Monatsmittel</text>
<rect x="191.9" y="81.2" width="24" height="20" fill="#8b3626" stroke="#000" stroke-width="1.4"/>
<text transform="translate(246.0 102.7) scale(0.949 1)">2026</text>
<rect x="448.2" y="81.2" width="24" height="20" fill="#cdbe70" stroke="#000" stroke-width="1.4"/>
<text transform="translate(501.6 102.7) scale(0.942 1)">1981 - 2010</text>
<rect x="1171.5" y="12.5" width="705.5" height="117.5" fill="#fff" stroke="#000" stroke-width="1"/>
<text transform="translate(1524.6 50.7) scale(0.940 1)" text-anchor="middle">Absolute Abweichung von 2026 zum Klimamittel</text>
<rect x="1290.5" y="81.2" width="24" height="20" fill="#ee5c42" stroke="#000" stroke-width="1.4"/>
<text transform="translate(1343.4 102.7) scale(0.939 1)">1961 - 1990</text>
<rect x="1546.6" y="81.2" width="24" height="20" fill="#cd4f39" stroke="#000" stroke-width="1.4"/>
<text transform="translate(1600.2 102.7) scale(0.934 1)">1981 - 2010</text>
</g>
</svg>
</body>
</html>
